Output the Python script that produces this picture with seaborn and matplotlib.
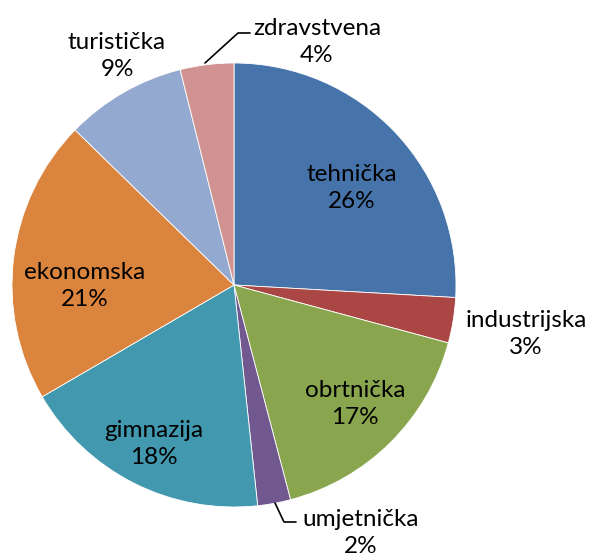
import matplotlib.pyplot as plt
import seaborn as sns

# school types, clockwise from 12 o'clock
categories = ['tehnička', 'industrijska', 'obrtnička', 'umjetnička',
              'gimnazija', 'ekonomska', 'turistička', 'zdravstvena']
shares = [25.9, 3.3, 16.7, 2.4, 18.3, 20.7, 8.8, 3.9]
colors = ['#4674AA', '#AA4643', '#89A54E', '#71588F',
          '#4198AF', '#DB843D', '#93A9CF', '#D19392']

sns.set_theme(style='white')
plt.rcParams['font.family'] = ['Lato', 'DejaVu Sans']

W, H = 591, 558
CX, CY, R = 234, 285, 222


def px(x, y):
    # image pixel -> pie data coords
    return (x - CX) / R, (CY - y) / R


fig = plt.figure(figsize=(W / 100, H / 100), dpi=100)
ax = fig.add_axes([(CX - R) / W, (H - CY - R) / H, 2 * R / W, 2 * R / H])

ax.pie(shares, colors=colors, startangle=90, counterclock=False, radius=1,
       wedgeprops=dict(edgecolor='white', linewidth=0.6))
ax.set_xlim(-1, 1)
ax.set_ylim(-1, 1)
ax.set_aspect('auto')
ax.axis('off')

# label centres in image pixels
label_pos = [(352, 188), (526, 334), (355, 404), (361, 533),
             (154, 444), (85, 286), (117, 56), (317, 42)]
for name, val, (lx, ly) in zip(categories, shares, label_pos):
    x, y = px(lx, ly)
    ax.text(x, y, f'{name}\n{val:.0f}%', ha='center', va='center',
            fontsize=17.5, linespacing=1.4, color='black', clip_on=False)

# leader lines
for pts in [[(205, 63), (238, 33), (250, 33)],
            [(275, 503), (284, 522), (296, 522)]]:
    xs, ys = zip(*[px(a, b) for a, b in pts])
    ax.plot(xs, ys, color='black', lw=1.2, clip_on=False)

fig.savefig('out.png', dpi=100)
